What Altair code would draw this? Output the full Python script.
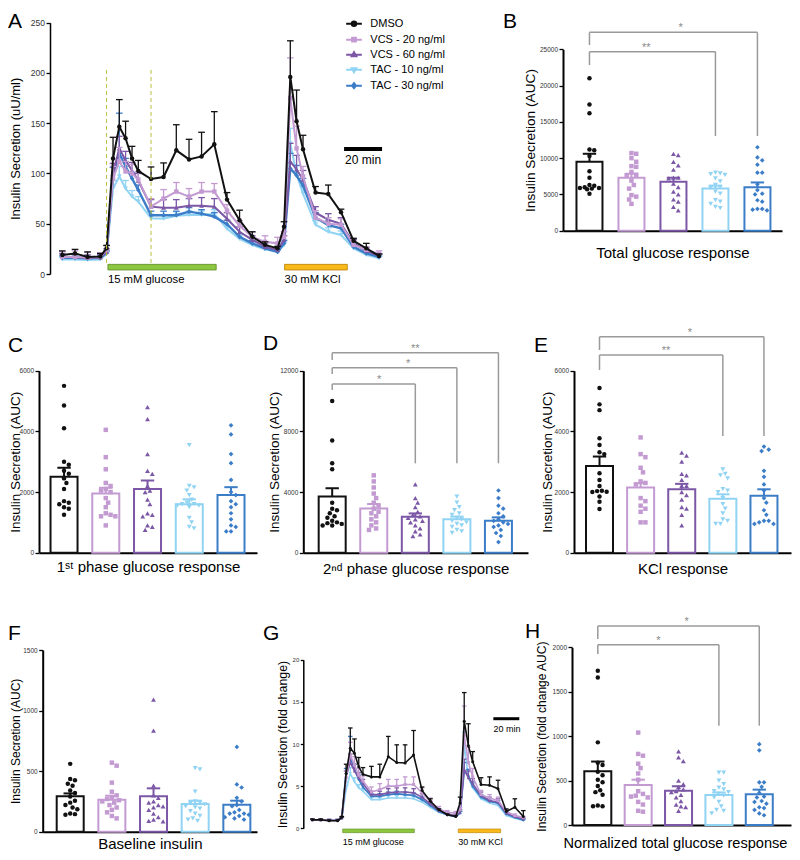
import math
import altair as alt
import pandas as pd

FONT = "Liberation Sans"

# ------------------------------------------------------------------ data
SERIES = ["DMSO", "VCS - 20 ng/ml", "VCS - 60 ng/ml", "TAC - 10 ng/ml", "TAC - 30 ng/ml"]

TIME_MIN = [0, 6.7, 13.3, 20, 23.3, 26.7, 30, 33.3, 36.7, 40, 46.7, 53.3, 60, 66.7, 73.3, 80,
            86.7, 93.3, 100, 106.7, 113.3, 116.7, 120, 123.3, 126.7, 133.3, 140, 146.7, 153.3, 160, 166.7]

# Panel A: insulin secretion (uU/ml), mean and SEM per series
A_DMSO = [19, 20.5, 17, 17.5, 25.5, 115, 146.5, 135, 115, 102.5, 94.5, 96.5, 123, 114, 117, 129, 74, 53.5,
          37, 29, 25.5, 47, 196, 152, 124, 81, 79.5, 61.5, 33, 25.5, 18]
A_DMSO_SEM = [4, 4, 5, 3, 3, 21, 27, 17, 12, 10.5, 12, 14, 25.5, 20, 24, 32.5, 7, 10, 5, 3, 2, 5, 36, 31, 14,
              6, 9, 3, 2.5, 5, 2]
A_VCS20 = [17, 17, 16.5, 17, 24, 95, 112, 102, 100, 94, 67, 75, 82, 77, 82, 82, 63, 48, 37, 32, 30.5, 37, 175,
           125, 97, 56, 50, 49, 29, 24, 20]
A_VCS20_SEM = [5, 6, 5, 4, 4, 12, 14, 10, 9, 8, 8, 9, 9, 8, 9, 8, 6, 5, 5, 6, 6, 5, 40, 22, 10, 7, 6, 6, 4, 3, 3]
A_VCS60 = [17, 17, 16, 16.5, 22, 100, 125, 113, 103, 93, 67, 66, 66, 68, 68, 67, 55, 42, 34, 27, 24, 34, 112,
           104, 94, 61, 54, 50, 30.5, 23, 18]
A_VCS60_SEM = [3, 3, 3, 3, 3, 10, 12, 9, 8, 7, 7, 8, 8, 7, 8, 8, 6, 5, 4, 3, 3, 4, 18, 14, 9, 6, 6, 6, 4, 3, 2]
A_TAC10 = [14.5, 14.5, 14, 14.5, 20, 85, 97, 85, 77, 72, 55.5, 55, 58, 58.7, 58.7, 60, 45, 35, 28.8, 24.5, 22,
           28.8, 130, 99, 80, 49, 42, 38.8, 25.5, 19, 15.6]
A_TAC10_SEM = [2, 2, 2, 2, 2, 8, 10, 8, 6, 5, 4, 4, 4, 4, 4, 4, 3, 3, 3, 2, 2, 3, 15, 9, 7, 4, 4, 4, 3, 2, 2]
A_TAC30 = [16, 16, 15.5, 16, 21, 98, 120, 107, 95, 83.5, 58.5, 58.5, 58.5, 62, 60, 57, 49.5, 37, 30.5, 25.5, 22,
           30.5, 105, 98, 88, 56, 48.7, 45.5, 27, 20.6, 17]
A_TAC30_SEM = [2, 2, 2, 2, 2, 8, 40, 8, 6, 5, 4, 4, 4, 4, 4, 4, 4, 3, 3, 2, 2, 3, 15, 10, 7, 5, 4, 4, 3, 2, 2]

# Panel G: fold change, mean and SEM per series
G_DMSO = [1.0, 1.0, 0.9, 0.9, 1.3, 6.5, 9.5, 8.9, 7.3, 6.4, 6.1, 6.1, 8.5, 7.8, 7.75, 8.7, 4.5, 3.2, 2.2, 1.6,
          1.4, 3.0, 12.7, 9.8, 7.9, 5.2, 5.1, 4.7, 2.0, 2.5, 1.4]
G_DMSO_SEM = [0.1, 0.1, 0.1, 0.1, 0.1, 1.1, 2.4, 1.7, 1.1, 0.8, 1.25, 1.5, 2.4, 2.1, 2.15, 2.9, 0.4, 0.3, 0.1,
              0.1, 0.1, 0.7, 3.4, 2.6, 1.2, 0.8, 1.0, 1.0, 0.3, 1.0, 0.7]
G_VCS20 = [1.0, 1.0, 0.95, 0.95, 1.3, 6.0, 8.7, 7.5, 6.3, 5.6, 4.3, 4.6, 5.0, 5.0, 5.2, 5.2, 4.2, 3.2, 2.3, 1.9,
           1.8, 2.2, 11.0, 7.8, 6.1, 4.0, 3.6, 3.3, 2.0, 1.5, 1.3]
G_VCS20_SEM = [0.1, 0.1, 0.1, 0.1, 0.1, 0.8, 1.5, 1.0, 0.8, 0.6, 0.6, 0.7, 0.8, 0.8, 0.9, 0.9, 0.6, 0.4, 0.3,
               0.2, 0.2, 0.3, 3.5, 1.8, 1.0, 0.5, 0.4, 0.4, 0.2, 0.2, 0.1]
G_VCS60 = [1.0, 1.0, 0.95, 0.95, 1.2, 6.2, 7.8, 6.8, 6.0, 5.3, 4.0, 4.0, 4.2, 4.3, 4.3, 4.2, 3.7, 2.9, 2.1, 1.7,
           1.5, 1.9, 7.0, 6.0, 5.3, 3.9, 3.3, 3.1, 1.8, 1.4, 1.1]
G_VCS60_SEM = [0.1, 0.1, 0.1, 0.1, 0.1, 0.6, 1.0, 0.8, 0.6, 0.5, 0.4, 0.4, 0.5, 0.5, 0.5, 0.5, 0.4, 0.3, 0.2,
               0.2, 0.2, 0.3, 1.2, 0.8, 0.6, 0.4, 0.4, 0.4, 0.2, 0.1, 0.1]
G_TAC10 = [1.0, 1.0, 0.95, 0.95, 1.2, 4.6, 6.5, 5.5, 4.8, 4.4, 3.4, 3.4, 3.6, 3.6, 3.6, 3.5, 3.1, 2.5, 1.9, 1.6,
           1.4, 1.8, 9.9, 6.0, 4.8, 3.5, 3.0, 2.7, 1.5, 1.2, 0.9]
G_TAC10_SEM = [0.1, 0.1, 0.1, 0.1, 0.1, 0.5, 0.7, 0.5, 0.4, 0.3, 0.3, 0.3, 0.3, 0.3, 0.3, 0.3, 0.3, 0.2, 0.2,
               0.1, 0.1, 0.2, 1.5, 0.8, 0.5, 0.3, 0.3, 0.3, 0.2, 0.1, 0.1]
G_TAC30 = [1.0, 1.0, 0.95, 0.95, 1.2, 6.5, 8.4, 7.0, 5.8, 4.9, 3.8, 3.8, 4.0, 4.1, 4.0, 3.9, 3.4, 2.7, 2.0, 1.6,
           1.4, 1.8, 6.8, 6.2, 5.0, 3.7, 3.2, 3.0, 1.7, 1.3, 1.0]
G_TAC30_SEM = [0.1, 0.1, 0.1, 0.1, 0.1, 0.6, 2.5, 0.6, 0.5, 0.4, 0.3, 0.3, 0.3, 0.3, 0.3, 0.3, 0.3, 0.2, 0.2,
               0.1, 0.1, 0.2, 1.0, 0.8, 0.5, 0.3, 0.3, 0.3, 0.2, 0.1, 0.1]

# Panel B: total glucose response (AUC)
B_DMSO = [21000, 17400, 16200, 11200, 11100, 10300, 8200, 7300, 6300, 6200, 5900, 5900, 5800, 5700, 5100, 6000]
B_VCS20 = [10700, 10600, 10000, 9500, 8900, 8800, 8100, 7700, 7600, 6900, 6300, 5800, 4900, 4700, 4300, 3700]
B_VCS60 = [10600, 10400, 9500, 9000, 8400, 7300, 7200, 7300, 6500, 6000, 5400, 5000, 4300, 4000, 3300, 2800]
B_TAC10 = [8000, 7900, 7800, 7700, 7200, 6800, 6300, 6000, 5900, 5400, 5100, 4200, 4000, 3700, 3300, 3100]
B_TAC30 = [11500, 10100, 9700, 9100, 8000, 8000, 6400, 5600, 5100, 5000, 4200, 4000, 3000, 2900, 2800, 3000]
B_MEAN = [9500, 7300, 6750, 5800, 6000]
B_SEM = [1100, 550, 550, 420, 650]

# Panel C: 1st phase glucose response (AUC)
C_DMSO = [5500, 4850, 4100, 3000, 2900, 2700, 2600, 2450, 2300, 2100, 1700, 1650, 1600, 1500, 1450, 1250]
C_VCS20 = [4050, 3150, 2750, 2300, 2200, 2100, 2050, 2000, 1800, 1650, 1500, 1300, 1250, 1200, 1200, 900]
C_VCS60 = [4800, 4400, 3250, 2700, 2600, 2200, 2050, 2000, 1750, 1600, 1300, 1250, 1200, 900, 850, 750]
C_TAC10 = [3550, 2200, 2150, 2050, 1900, 1750, 1650, 1600, 1600, 1550, 1550, 1500, 1150, 1000, 850, 800]
C_TAC30 = [4200, 3900, 3250, 2950, 2400, 2000, 1900, 1700, 1600, 1500, 1300, 1100, 900, 850, 700, 700]
C_MEAN = [2500, 1950, 2100, 1600, 1900]
C_SEM = [300, 190, 280, 160, 260]

# Panel D: 2nd phase glucose response (AUC)
D_DMSO = [10000, 7400, 5900, 5500, 3300, 2900, 2800, 2600, 2400, 2300, 2100, 2000, 1950, 1900, 1800, 1800]
D_VCS20 = [5100, 4700, 4300, 3900, 3600, 3300, 3100, 2900, 2700, 2600, 2400, 2200, 2000, 1800, 1600, 1500]
D_VCS60 = [4500, 3600, 3300, 3000, 2700, 2500, 2400, 2300, 2200, 2100, 2000, 1800, 1600, 1400, 1200, 1100]
D_TAC10 = [3700, 3300, 3000, 2800, 2600, 2500, 2300, 2200, 2100, 2000, 1900, 1800, 1700, 1500, 1400, 1300]
D_TAC30 = [4100, 3600, 3100, 2900, 2600, 2400, 2200, 2100, 2000, 1900, 1800, 1700, 1500, 1300, 1100, 700]
D_MEAN = [3700, 2920, 2370, 2200, 2110]
D_SEM = [550, 290, 220, 180, 220]

# Panel E: KCl response (AUC)
E_DMSO = [5430, 4890, 4700, 3770, 3550, 3310, 3250, 2620, 2400, 2200, 2040, 2030, 2010, 2000, 1850, 1680, 1440]
E_VCS20 = [3800, 3250, 3150, 2800, 2650, 2350, 2300, 2250, 1800, 1700, 1550, 1450, 1350, 1000, 1000]
E_VCS60 = [3300, 3200, 3000, 2600, 2550, 2400, 2200, 2200, 2000, 1900, 1750, 1500, 1450, 1250, 900]
E_TAC10 = [2750, 2600, 2550, 2450, 2100, 2050, 2000, 1800, 1600, 1450, 1300, 1100, 1050, 950, 950]
E_TAC30 = [3500, 3400, 3350, 2700, 2500, 2250, 2050, 1800, 1650, 1400, 1250, 1050, 1050, 1000, 950, 950]
E_MEAN = [2860, 2150, 2090, 1780, 1880]
E_SEM = [310, 140, 180, 145, 210]

# Panel F: baseline insulin (AUC)
F_DMSO = [560, 435, 425, 395, 380, 340, 320, 290, 255, 240, 220, 200, 185, 150, 145, 140]
F_VCS20 = [570, 545, 405, 330, 300, 280, 270, 260, 250, 240, 220, 200, 180, 160, 130, 110]
F_VCS60 = [1090, 835, 380, 300, 280, 250, 240, 220, 210, 200, 180, 150, 120, 100, 90, 85]
F_TAC10 = [525, 515, 330, 250, 240, 235, 225, 210, 200, 190, 170, 150, 130, 110, 100, 90]
F_TAC30 = [700, 390, 365, 280, 250, 220, 210, 180, 160, 150, 150, 140, 130, 120, 110, 100]
F_MEAN = [292, 264, 292, 228, 223]
F_SEM = [24, 33, 66, 28, 33]

# Panel H: normalized total glucose response (fold change AUC)
H_DMSO = [1735, 1660, 930, 700, 675, 600, 560, 510, 480, 440, 390, 370, 340, 220, 210, 210]
H_VCS20 = [1040, 800, 780, 690, 640, 580, 510, 380, 350, 330, 320, 310, 260, 230, 160, 150]
H_VCS60 = [830, 760, 720, 500, 460, 430, 400, 380, 370, 340, 310, 270, 230, 210, 200, 160]
H_TAC10 = [590, 590, 500, 460, 420, 400, 380, 370, 350, 330, 310, 260, 210, 170, 160, 130]
H_TAC30 = [910, 840, 480, 480, 430, 360, 320, 310, 270, 260, 240, 200, 190, 170, 130, 110]
H_MEAN = [604, 450, 386, 338, 345]
H_SEM = [110, 60, 50, 28, 53]

# ------------------------------------------------------------------ styles / layout
W_ALL, H_ALL = 784, 844
COLORS = ["#111111", "#c39bd2", "#7b57a6", "#90d3f3", "#3c7dc8"]
SHAPES = ["circle", "square", "triangle-up", "triangle-down", "diamond"]
PT_SIZE = [20, 20, 24, 24, 22]
LEGEND_PATHS = [
    "M-1.12,0H1.12M0.32,0A0.32,0.32,0,1,1,-0.32,0A0.32,0.32,0,1,1,0.32,0Z",
    "M-1.12,0H1.12M-0.27,-0.27H0.27V0.27H-0.27Z",
    "M-1.12,0H1.12M0,-0.36L0.33,0.22H-0.33Z",
    "M-1.12,0H1.12M0,0.36L0.33,-0.22H-0.33Z",
    "M-1.12,0H1.12M0,-0.36L0.28,0L0,0.36L-0.28,0Z",
]
BRACKET_COLOR = "#9a9a9a"


def Xq(field, scale, axis=None):
    return alt.X(field, type="quantitative", scale=scale, axis=axis)


def Yq(field, scale, axis=None):
    return alt.Y(field, type="quantitative", scale=scale, axis=axis, stack=None)


def letter_layer(ch, x, y):
    return alt.Chart(pd.DataFrame({"t": [ch]})).mark_text(
        fontSize=21, align="left", baseline="alphabetic", color="black", font=FONT
    ).encode(text="t:N", x=alt.value(x), y=alt.value(y))


def swarm(vals, ppu, step, d=5.0, maxoff=12.5):
    n = len(vals)
    order = sorted(range(n), key=lambda i: -vals[i])
    cands = [0.0]
    k = 1
    while k * d / 2 <= maxoff + 1e-9:
        cands += [k * d / 2, -k * d / 2]
        k += 1
    placed, offs = [], [0.0] * n
    for i in order:
        y = vals[i] * ppu
        best, bestd = 0.0, -1
        for c in cands:
            md = min([math.hypot(c - px, y - py) for px, py in placed] or [1e9])
            if md >= d:
                best = c
                break
            if md > bestd:
                bestd, best = md, c
        offs[i] = best
        placed.append((best, y))
    return [o / step for o in offs]


def y_axis(ticks, title, tfs, tdist, top, bottom, left, lfs=6.5, dw=2, tsize=4):
    return alt.Axis(orient="left", offset=-left, values=ticks, format="d", title=title, grid=False,
                    domainColor="black", domainWidth=dw, tickColor="black", tickWidth=1.3, tickSize=tsize,
                    labelFontSize=lfs, labelColor="#333333", labelPadding=1.5, titleFontSize=tfs,
                    titleFontWeight="normal", titleColor="black", titleX=-tdist, titleY=(top + bottom) / 2,
                    titleAlign="center", titleBaseline="middle", titleAngle=270)


def bar_panel(p):
    l, w, top, bottom, step, first = p["l"], p["w"], p["top"], p["bottom"], p["step"], p["first"]
    xsc = alt.Scale(domain=[-first / step, (w - first) / step], range=[l, l + w], nice=False, zero=False)
    ysc = alt.Scale(domain=[0, p["ymax"]], range=[bottom, top], nice=False)
    yaxis = y_axis(p["yticks"], p["ytitle"], p["ytfs"], p["ytd"], top, bottom, l)
    xaxis = alt.Axis(orient="bottom", offset=bottom - H_ALL, title=p["xtitle"], labels=False, ticks=False,
                     grid=False, domainColor="black", domainWidth=2, titleFontSize=p.get("xtfs", 15),
                     titleFontWeight="normal", titleColor="black", titleX=p.get("xtx", l + w / 2),
                     titleY=p["xtd"], titleAlign="center", titleBaseline="middle")
    cap = 7.0 / step
    bars = pd.DataFrame({
        "i": list(range(5)), "m": p["mean"],
        "top": [m + s for m, s in zip(p["mean"], p["sem"])],
        "cl": [i - cap for i in range(5)], "cr": [i + cap for i in range(5)],
        "col": COLORS,
    })
    stroke = alt.Stroke("col:N", scale=None)
    layers = [
        alt.Chart(bars).mark_bar(orient="vertical", size=p["bw"], fill="white", strokeWidth=2).encode(
            x=Xq("i", xsc, xaxis), y=Yq("m", ysc, yaxis), stroke=stroke),
        alt.Chart(bars).mark_rule(strokeWidth=2).encode(
            x=Xq("i", xsc, xaxis), y=Yq("m", ysc, yaxis), y2="top:Q", stroke=stroke),
        alt.Chart(bars).mark_rule(strokeWidth=2).encode(
            x=Xq("cl", xsc, xaxis), x2="cr:Q", y=Yq("top", ysc, yaxis), stroke=stroke),
    ]
    ppu = (bottom - top) / p["ymax"]
    for k in range(5):
        vals = p["pts"][k]
        offs = swarm(vals, ppu, step)
        df = pd.DataFrame({"x": [k + o for o in offs], "v": vals})
        layers.append(alt.Chart(df).mark_point(filled=True, shape=SHAPES[k], size=PT_SIZE[k],
                                               color=COLORS[k], opacity=1).encode(
            x=Xq("x", xsc, xaxis), y=Yq("v", ysc, yaxis)))
    if p.get("brackets"):
        bdf = pd.DataFrame(p["brackets"], columns=["xl", "xr", "yb", "yl", "yr"])
        layers += [
            alt.Chart(bdf).mark_rule(color=BRACKET_COLOR, strokeWidth=1.5).encode(
                x=Xq("xl", xsc, xaxis), x2="xr:Q", y=Yq("yb", ysc, yaxis)),
            alt.Chart(bdf).mark_rule(color=BRACKET_COLOR, strokeWidth=1.5).encode(
                x=Xq("xl", xsc, xaxis), y=Yq("yb", ysc, yaxis), y2="yl:Q"),
            alt.Chart(bdf).mark_rule(color=BRACKET_COLOR, strokeWidth=1.5).encode(
                x=Xq("xr", xsc, xaxis), y=Yq("yb", ysc, yaxis), y2="yr:Q"),
        ]
        sdf = pd.DataFrame(p["stars"], columns=["x", "y", "t"])
        layers.append(alt.Chart(sdf).mark_text(fontSize=11, color="#8a8a8a", baseline="alphabetic",
                                               align="center", dy=-1, font=FONT).encode(
            x=Xq("x", xsc, xaxis), y=Yq("y", ysc, yaxis), text="t:N"))
    layers.append(letter_layer(p["letter"], p["lx"], p["ly"]))
    return alt.layer(*layers)


def ts_layers(means, sems, xsc, ysc, yaxis, cap_half, pt_scale, line_ws):
    layers = []
    for k in [3, 4, 2, 1, 0]:
        df = pd.DataFrame({
            "t": TIME_MIN, "v": means[k],
            "e": [m + s for m, s in zip(means[k], sems[k])],
            "t1": [t - cap_half for t in TIME_MIN], "t2": [t + cap_half for t in TIME_MIN],
        })
        c = COLORS[k]
        base = alt.Chart(df)
        layers += [
            base.mark_rule(color=c, strokeWidth=1.3).encode(x=Xq("t", xsc), y=Yq("v", ysc, yaxis), y2="e:Q"),
            base.mark_rule(color=c, strokeWidth=1.3).encode(x=Xq("t1", xsc), x2="t2:Q", y=Yq("e", ysc, yaxis)),
            base.mark_line(color=c, strokeWidth=line_ws[k]).encode(x=Xq("t", xsc), y=Yq("v", ysc, yaxis)),
            base.mark_point(filled=True, shape=SHAPES[k], size=PT_SIZE[k] * pt_scale, color=c,
                            opacity=1).encode(x=Xq("t", xsc), y=Yq("v", ysc, yaxis)),
        ]
    return layers


# ---------------- panel A
A_L, A_W, A_TOP, A_BOT = 42, 345, 14.7, 266
A_PX_PER_MIN, A_X0 = 1.9, 12.3
a_xsc = alt.Scale(domain=[-A_X0 / A_PX_PER_MIN, (A_W - A_X0) / A_PX_PER_MIN], range=[A_L, A_L + A_W],
                  nice=False, zero=False)
a_ysc = alt.Scale(domain=[0, 250], range=[A_BOT, A_TOP], nice=False)
a_yaxis = y_axis([0, 50, 100, 150, 200, 250], "Insulin Secretion (uU/ml)", 13, 34.5, A_TOP, A_BOT, A_L,
                 lfs=8.5, dw=1.5, tsize=4)
a_layers = ts_layers([A_DMSO, A_VCS20, A_VCS60, A_TAC10, A_TAC30],
                     [A_DMSO_SEM, A_VCS20_SEM, A_VCS60_SEM, A_TAC10_SEM, A_TAC30_SEM],
                     a_xsc, a_ysc, a_yaxis, 1.75, 1.0, [2.0, 2.0, 2.0, 2.0, 2.4])
a_dash = pd.DataFrame({"x": [23.3, 46.7], "y1": [11, 11], "y2": [205, 205]})
a_stim = pd.DataFrame({"x1": [24, 117], "x2": [81, 150], "y1": [4, 4], "y2": [9.6, 9.6],
                       "fill": ["#8dc63f", "#f9b91a"], "edge": ["#5f8a25", "#b57f00"],
                       "label": ["15 mM glucose", "30 mM KCl"], "ly": [-5.5, -5.5]})
a_scale = pd.DataFrame({"x1": [148.3], "x2": [168.3], "xm": [158.3], "y": [124.3], "ty": [113.4],
                        "label": ["20 min"]})
legend_def = alt.Legend(orient="none", legendX=338, legendY=7.7, title=None, symbolSize=196,
                        symbolStrokeWidth=2, labelFontSize=11, labelFont=FONT, labelColor="black",
                        labelOffset=8.3, rowPadding=1, padding=0, symbolOpacity=1)
a_layers += [
    alt.Chart(a_dash).mark_rule(color="#b8bf3a", strokeWidth=1, strokeDash=[4, 3]).encode(
        x=Xq("x", a_xsc), y=Yq("y1", a_ysc, a_yaxis), y2="y2:Q"),
    alt.Chart(a_stim).mark_rect(strokeWidth=0.8).encode(
        x=Xq("x1", a_xsc), x2="x2:Q", y=Yq("y1", a_ysc, a_yaxis), y2="y2:Q",
        fill=alt.Fill("fill:N", scale=None), stroke=alt.Stroke("edge:N", scale=None)),
    alt.Chart(a_stim).mark_text(align="left", baseline="middle", fontSize=11.3, color="black",
                                font=FONT).encode(
        x=Xq("x1", a_xsc), y=Yq("ly", a_ysc, a_yaxis), text="label:N"),
    alt.Chart(a_scale).mark_rule(color="black", strokeWidth=4).encode(
        x=Xq("x1", a_xsc), x2="x2:Q", y=Yq("y", a_ysc, a_yaxis)),
    alt.Chart(a_scale).mark_text(align="center", baseline="middle", fontSize=12, color="black",
                                 font=FONT).encode(
        x=Xq("xm", a_xsc), y=Yq("ty", a_ysc, a_yaxis), text="label:N"),
    alt.Chart(pd.DataFrame({"s": SERIES})).transform_filter("false").mark_point(filled=True, opacity=1).encode(
        x=alt.value(0), y=alt.value(0),
        fill=alt.Fill("s:N", scale=alt.Scale(domain=SERIES, range=COLORS), legend=legend_def),
        stroke=alt.Stroke("s:N", scale=alt.Scale(domain=SERIES, range=COLORS), legend=legend_def),
        shape=alt.Shape("s:N", scale=alt.Scale(domain=SERIES, range=LEGEND_PATHS), legend=legend_def)),
    letter_layer("A", 0, 20),
]
panel_A = alt.layer(*a_layers)

# ---------------- panel G
G_L, G_W, G_TOP, G_BOT = 295.3, 222, 651.7, 820.3
G_PX_PER_MIN, G_X0 = 1.266, 9.0
g_xsc = alt.Scale(domain=[-G_X0 / G_PX_PER_MIN, (G_W - G_X0) / G_PX_PER_MIN], range=[G_L, G_L + G_W],
                  nice=False, zero=False)
g_ysc = alt.Scale(domain=[0, 20], range=[G_BOT, G_TOP], nice=False)
g_yaxis = y_axis([0, 5, 10, 15, 20], "Insulin Secretion (fold change)", 12.4, 20.7, G_TOP, G_BOT, G_L,
                 lfs=6, dw=1.5, tsize=3)
g_layers = ts_layers([G_DMSO, G_VCS20, G_VCS60, G_TAC10, G_TAC30],
                     [G_DMSO_SEM, G_VCS20_SEM, G_VCS60_SEM, G_TAC10_SEM, G_TAC30_SEM],
                     g_xsc, g_ysc, g_yaxis, 1.8, 0.45, [1.6, 1.6, 1.6, 1.6, 1.8])
g_stim = pd.DataFrame({"x1": [24, 115.3], "x2": [80.6, 148.8], "y1": [-0.52, -0.52], "y2": [-0.08, -0.08],
                       "fill": ["#8dc63f", "#f9b91a"], "edge": ["#5f8a25", "#b57f00"],
                       "label": ["15 mM glucose", "30 mM KCl"], "ly": [-1.66, -1.66]})
g_scale = pd.DataFrame({"x1": [143], "x2": [163.5], "xm": [153.8], "y": [13], "ty": [11.8],
                        "label": ["20 min"]})
g_layers += [
    alt.Chart(g_stim).mark_rect(strokeWidth=0.6).encode(
        x=Xq("x1", g_xsc), x2="x2:Q", y=Yq("y1", g_ysc, g_yaxis), y2="y2:Q",
        fill=alt.Fill("fill:N", scale=None), stroke=alt.Stroke("edge:N", scale=None)),
    alt.Chart(g_stim).mark_text(align="left", baseline="middle", fontSize=9, color="black", font=FONT).encode(
        x=Xq("x1", g_xsc), y=Yq("ly", g_ysc, g_yaxis), text="label:N"),
    alt.Chart(g_scale).mark_rule(color="black", strokeWidth=3).encode(
        x=Xq("x1", g_xsc), x2="x2:Q", y=Yq("y", g_ysc, g_yaxis)),
    alt.Chart(g_scale).mark_text(align="center", baseline="middle", fontSize=9, color="black",
                                 font=FONT).encode(
        x=Xq("xm", g_xsc), y=Yq("ty", g_ysc, g_yaxis), text="label:N"),
    letter_layer("G", 255, 632),
]
panel_G = alt.layer(*g_layers)

# ---------------- bar panels
AUC_TITLE = "Insulin Secretion (AUC)"
panel_B = bar_panel(dict(
    l=555, w=219, top=41.3, bottom=222.7, step=44, first=22.5, bw=26, ymax=25000,
    yticks=[0, 5000, 10000, 15000, 20000, 25000],
    ytitle=AUC_TITLE, ytfs=13.7, ytd=33, xtitle="Total glucose response", xtd=21.3,
    mean=B_MEAN, sem=B_SEM, pts=[B_DMSO, B_VCS20, B_VCS60, B_TAC10, B_TAC30],
    brackets=[(0, 4, 27340, 25590, 13050), (0, 3, 24670, 22830, 13050)],
    stars=[(2.17, 27340, "*"), (1.35, 24670, "**")],
    letter="B", lx=495, ly=20))
panel_C = bar_panel(dict(
    l=31, w=218, top=362.7, bottom=544.7, step=43.75, first=21, bw=27, ymax=6000,
    yticks=[0, 2000, 4000, 6000],
    ytitle=AUC_TITLE, ytfs=13.5, ytd=23.8, xtitle="1ˢᵗ phase glucose response", xtd=14,
    mean=C_MEAN, sem=C_SEM, pts=[C_DMSO, C_VCS20, C_VCS60, C_TAC10, C_TAC30],
    letter="C", lx=0, ly=344))
panel_D = bar_panel(dict(
    l=295.3, w=224.7, top=362.7, bottom=544.7, step=43.5, first=25, bw=27, ymax=12000,
    yticks=[0, 4000, 8000, 12000],
    ytitle=AUC_TITLE, ytfs=13.5, ytd=29, xtitle="2ⁿᵈ phase glucose response", xtd=16,
    mean=D_MEAN, sem=D_SEM, pts=[D_DMSO, D_VCS20, D_VCS60, D_TAC10, D_TAC30],
    brackets=[(0, 4, 13187, 12705, 5894), (0, 3, 12198, 11780, 5894), (0, 2, 11122, 10727, 5894)],
    stars=[(2.0, 13187, "**"), (1.83, 12198, "*"), (1.13, 11122, "*")],
    letter="D", lx=255, ly=342))
panel_E = bar_panel(dict(
    l=566, w=217, top=362.7, bottom=544.7, step=43.1, first=21.5, bw=27, ymax=6000,
    yticks=[0, 2000, 4000, 6000],
    ytitle=AUC_TITLE, ytfs=13.5, ytd=26.7, xtitle="KCl response", xtd=16,
    mean=E_MEAN, sem=E_SEM, pts=[E_DMSO, E_VCS20, E_VCS60, E_TAC10, E_TAC30],
    brackets=[(0, 4, 7121, 6683, 3847), (0, 3, 6518, 6024, 3847)],
    stars=[(2.2, 7121, "*"), (1.62, 6518, "**")],
    letter="E", lx=526, ly=344))
panel_F = bar_panel(dict(
    l=34.7, w=214.3, top=642, bottom=823.7, step=43.7, first=23.6, bw=27, ymax=1500,
    yticks=[0, 500, 1000, 1500],
    ytitle=AUC_TITLE, ytfs=12, ytd=27.5, xtitle="Baseline insulin", xtd=12,
    mean=F_MEAN, sem=F_SEM, pts=[F_DMSO, F_VCS20, F_VCS60, F_TAC10, F_TAC30],
    letter="F", lx=0, ly=632))
panel_H = bar_panel(dict(
    l=564, w=219, top=639.3, bottom=817, step=42.3, first=21.8, bw=27, ymax=2000,
    yticks=[0, 500, 1000, 1500, 2000],
    ytitle="Insulin Secretion (fold change AUC)", ytfs=12, ytd=30.3,
    xtitle="Normalized total glucose response", xtd=18.5, xtfs=14.6, xtx=667,
    mean=H_MEAN, sem=H_SEM, pts=[H_DMSO, H_VCS20, H_VCS60, H_TAC10, H_TAC30],
    brackets=[(0, 4, 2240, 2093, 1118), (0, 3, 2029, 1925, 1118)],
    stars=[(2.2, 2240, "*"), (1.5, 2029, "*")],
    letter="H", lx=517, ly=630))

chart = alt.layer(panel_A, panel_B, panel_C, panel_D, panel_E, panel_F, panel_G, panel_H).resolve_scale(
    x="independent", y="independent"
).properties(
    width=W_ALL, height=H_ALL, padding=0, autosize=alt.AutoSizeParams(type="none")
).configure(font=FONT).configure_view(strokeWidth=0).configure_axis(
    labelFont=FONT, titleFont=FONT
).configure_text(font=FONT)

chart.save("out.html", embed_options={"renderer": "svg", "actions": False})
